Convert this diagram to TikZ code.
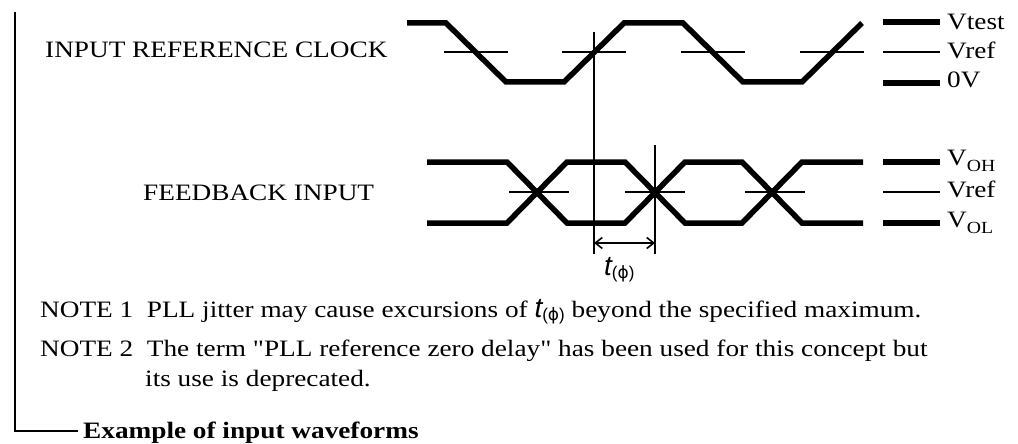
\documentclass[tikz,border=0pt]{standalone}
\usepackage{fontspec}
\setmainfont[FakeStretch=1.16]{Liberation Serif}
\newfontfamily\plainserif[FakeStretch=1.16]{Liberation Serif}
\newfontfamily\sansf{Liberation Sans}
\newfontfamily\phifont{DejaVu Sans}
\usetikzlibrary{arrows.meta}
\newcommand{\tphi}[2]{{\sansf\itshape\fontsize{#1}{#1}\selectfont t}{\sansf\fontsize{#2}{#2}\selectfont\raisebox{-0.35ex}{({\phifont\fontsize{#2}{#2}\selectfont ϕ})}}}
\newcommand{\sq}{{\plainserif\symbol{34}}}
\newcommand{\lowsub}[1]{\raisebox{-6pt}{\fontsize{17}{17}\selectfont #1}}
\begin{document}
\begin{tikzpicture}[x=1pt,y=-1pt,
  wave/.style={line width=5.5pt, line join=miter},
  thinln/.style={line width=1.6pt},
  lbl/.style={font=\fontsize{23.5}{26}\selectfont, inner sep=0pt, anchor=base west},
  legend/.style={line width=5.5pt},
]
\useasboundingbox (0,0) rectangle (1018,444);
% bracket
\coordinate (bt) at (15,12);
\coordinate (bc) at (15,431);
\coordinate (be) at (78,431);
\draw[line width=2pt] (bt) -- (bc) -- (be);
\node[lbl, font=\fontsize{23.5}{26}\selectfont\bfseries] (title) at (83,438) {Example of input waveforms};

% labels
\node[lbl] (irc) at (45,58) {INPUT REFERENCE CLOCK};
\node[lbl] (fbi) at (143,200) {FEEDBACK INPUT};

% top wave
\draw[wave] (407,23) -- (446,23) -- (506,82) -- (564,82) -- (624,23) -- (683,23) -- (743,82) -- (802,82) -- (862,23);
\foreach \c in {476,594,713,832} \draw[thinln] (\c-32,52) -- (\c+32,52);

% feedback waves
\draw[wave] (427,162) -- (507,162) -- (567,223) -- (625,223) -- (685,162) -- (742,162) -- (802,223) -- (863,223);
\draw[wave] (427,223) -- (507,223) -- (567,162) -- (625,162) -- (685,223) -- (742,223) -- (802,162) -- (863,162);
\foreach \c in {539,655,775} \draw[thinln] (\c-30,192) -- (\c+30,192);

% timing lines
\coordinate (v1t) at (594,32);
\coordinate (v1b) at (594,254);
\coordinate (v2t) at (655,145);
\coordinate (v2b) at (655,254);
\draw[thinln] (v1t) -- (v1b);
\draw[thinln] (v2t) -- (v2b);
\coordinate (a1) at (594,243);
\coordinate (a2) at (655,243);
\draw[thinln, {Straight Barb[length=7pt,width=11pt]}-{Straight Barb[length=7pt,width=11pt]}] (a1) -- (a2);
\node[inner sep=0pt, anchor=base west] (tl) at (604,275) {\tphi{28}{17}};

% legend
\draw[legend] (883,22) -- (940,22);
\draw[thinln] (883,52) -- (940,52);
\draw[legend] (883,83) -- (940,83);
\node[lbl] (vtest) at (947,30) {Vtest};
\node[lbl] (vref1) at (947,59) {Vref};
\node[lbl] (zv) at (947,88) {0V};
\draw[legend] (883,162) -- (940,162);
\draw[thinln] (883,192) -- (940,192);
\draw[legend] (883,223) -- (940,223);
\node[lbl] (voh) at (947,165) {V\lowsub{OH}};
\node[lbl] (vref2) at (947,197) {Vref};
\node[lbl] (vol) at (947,227) {V\lowsub{OL}};

% notes
\node[lbl] (n1) at (40,317) {NOTE 1\ \ PLL jitter may cause excursions of \tphi{28}{17} beyond the specified maximum.};
\node[lbl] (n2) at (40,356) {NOTE 2\ \ The term \sq PLL reference zero delay\sq{} has been used for this concept but};
\node[lbl] (n3) at (145,386) {its use is deprecated.};
\end{tikzpicture}
\end{document}
